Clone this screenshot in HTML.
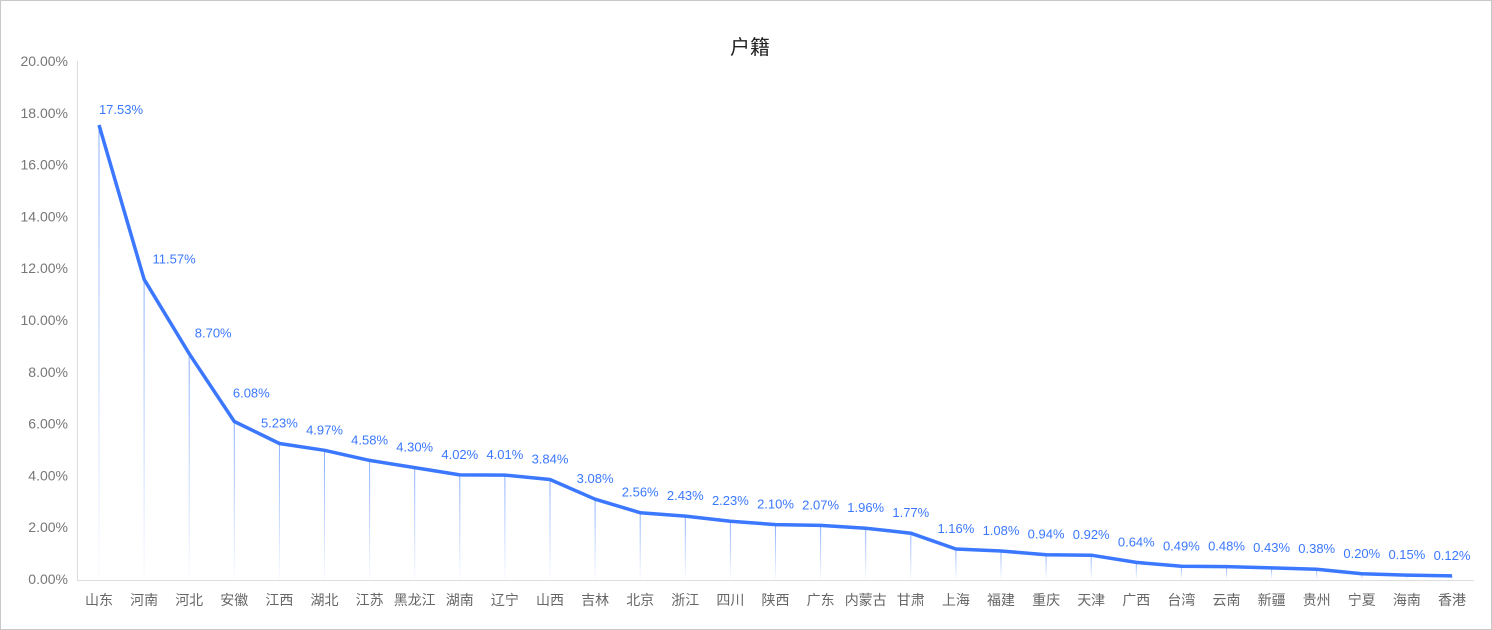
<!DOCTYPE html>
<html><head><meta charset="utf-8"><style>
html,body{margin:0;padding:0;background:#fff}
#c{position:absolute;left:0;top:0;width:1490px;height:628px;border:1px solid #c8c8c8;}
svg{position:absolute;left:0;top:0}
text{font-family:"Liberation Sans","Noto Sans CJK SC",sans-serif}
</style></head><body><div id="c"></div>
<svg id="s" width="1492" height="630" xmlns="http://www.w3.org/2000/svg"></svg>
<script>
var names=["山东","河南","河北","安徽","江西","湖北","江苏","黑龙江","湖南","辽宁","山西","吉林","北京","浙江","四川","陕西","广东","内蒙古","甘肃","上海","福建","重庆","天津","广西","台湾","云南","新疆","贵州","宁夏","海南","香港"];
var v=[17.53,11.57,8.70,6.08,5.23,4.97,4.58,4.30,4.02,4.01,3.84,3.08,2.56,2.43,2.23,2.10,2.07,1.96,1.77,1.16,1.08,0.94,0.92,0.64,0.49,0.48,0.43,0.38,0.20,0.15,0.12];
var ox=[22,30,24,17],oy=[-11,-16,-16,-24];
var y0=579,k=25.9,x0=99,dx=45.1;
var h='<defs><linearGradient id="g" x1="0" y1="0" x2="0" y2="1"><stop offset="0" stop-color="#3b78ff" stop-opacity="0.6"/><stop offset="1" stop-color="#3b78ff" stop-opacity="0.03"/></linearGradient></defs>';
h+='<text x="750" y="54" text-anchor="middle" font-size="20" fill="#222">户籍</text>';
for(var i=0;i<=10;i++){var y=y0-i*2*k;h+='<text x="68" y="'+(y+5)+'" text-anchor="end" font-size="14" fill="#777">'+(i*2).toFixed(2)+'%</text>';}
h+='<line x1="77.5" y1="61" x2="77.5" y2="580" stroke="#ddd"/><line x1="77" y1="580.5" x2="1474" y2="580.5" stroke="#ddd"/>';
var p=[];
for(var i=0;i<31;i++){var x=x0+i*dx,y=y0-v[i]*k;p.push(x.toFixed(1)+','+y.toFixed(1));
h+='<rect x="'+(x-0.5).toFixed(1)+'" y="'+y.toFixed(1)+'" width="1" height="'+(y0-y).toFixed(1)+'" fill="url(#g)"/>';
h+='<text x="'+x.toFixed(1)+'" y="605" text-anchor="middle" font-size="14" fill="#666">'+names[i]+'</text>';
var lx=x+(i<4?ox[i]:0),ly=y+(i<4?oy[i]:-16);
h+='<text x="'+lx.toFixed(1)+'" y="'+ly.toFixed(1)+'" text-anchor="middle" font-size="13" fill="#3b78ff">'+v[i].toFixed(2)+'%</text>';}
h+='<polyline points="'+p.join(' ')+'" fill="none" stroke="#3b78ff" stroke-width="3.5" stroke-linejoin="round"/>';
document.getElementById('s').innerHTML=h;
</script></body></html>
